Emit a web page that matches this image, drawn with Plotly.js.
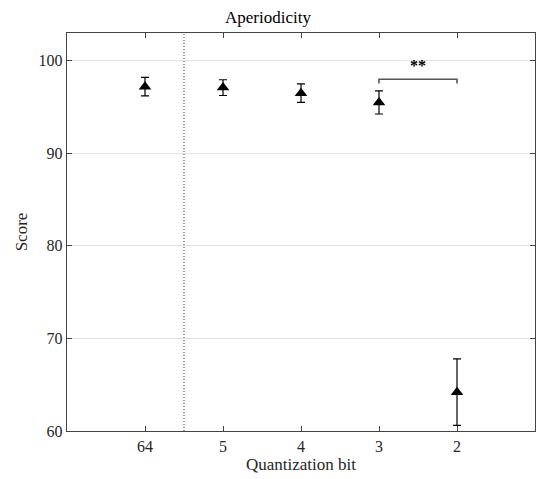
<!DOCTYPE html>
<html>
<head>
<meta charset="utf-8">
<script src="https://cdn.plot.ly/plotly-3.0.1.min.js"></script>
<style>html,body{margin:0;padding:0;background:#fff;}#chart{width:536px;height:479px;}</style>
</head>
<body>
<div id="chart"></div>
<script>
const categories = ["64", "5", "4", "3", "2"];
const meanScore = [97.2, 97.1, 96.5, 95.5, 64.2];
const errScore = [1.0, 0.85, 1.0, 1.25, 3.6];
const sigPair = ["3", "2"];
const sigLevel = 98.0;
const sigDrop = 0.45;
const sigLabel = "**";
const separatorAfter = "64";

const xIdx = categories.map((c, i) => i + 1);
const idxOf = c => categories.indexOf(c) + 1;
const font = "Liberation Serif, Times New Roman, serif";

const traces = [
  {
    x: xIdx, y: meanScore, type: "scatter", mode: "markers",
    marker: {symbol: "triangle-up", size: 11, color: "#000"},
    error_y: {type: "data", array: errScore, visible: true, color: "#000", thickness: 1.2, width: 4},
    showlegend: false, hoverinfo: "skip"
  },
  {
    x: [idxOf(sigPair[0]), idxOf(sigPair[0]), idxOf(sigPair[1]), idxOf(sigPair[1])],
    y: [sigLevel - sigDrop, sigLevel, sigLevel, sigLevel - sigDrop],
    type: "scatter", mode: "lines",
    line: {color: "#555", width: 1.6},
    showlegend: false, hoverinfo: "skip"
  },
  {
    x: [(idxOf(sigPair[0]) + idxOf(sigPair[1])) / 2], y: [sigLevel + 1.3],
    type: "scatter", mode: "text", text: ["<b>" + sigLabel + "</b>"],
    textfont: {family: font, size: 16, color: "#000"},
    showlegend: false, hoverinfo: "skip"
  }
];

const layout = {
  width: 536, height: 479,
  margin: {l: 67, r: 1, t: 33, b: 48},
  paper_bgcolor: "#fff", plot_bgcolor: "#fff",
  font: {family: font, size: 16, color: "#262626"},
  title: {text: "Aperiodicity", font: {family: font, size: 17, color: "#000"}, x: 0.5, xanchor: "center", y: 1, yref: "paper", yanchor: "bottom", pad: {b: 10}},
  xaxis: {
    range: [0, categories.length + 1],
    tickvals: xIdx, ticktext: categories,
    ticks: "inside", ticklen: 5, tickcolor: "#444", tickwidth: 1,
    showline: true, linecolor: "#444", linewidth: 1.3, mirror: "ticks",
    showgrid: false, zeroline: false,
    tickfont: {family: font, size: 16, color: "#262626"},
    title: {text: "Quantization bit", font: {family: font, size: 17, color: "#262626"}, standoff: 2}
  },
  yaxis: {
    range: [60, 103],
    tickvals: [60, 70, 80, 90, 100],
    ticks: "inside", ticklen: 5, tickcolor: "#444", tickwidth: 1,
    showline: true, linecolor: "#444", linewidth: 1.3, mirror: "ticks",
    showgrid: true, gridcolor: "#e3e3e3", gridwidth: 1, zeroline: false,
    tickfont: {family: font, size: 16, color: "#262626"},
    title: {text: "Score", font: {family: font, size: 17, color: "#262626"}, standoff: 6}
  },
  shapes: [{
    type: "line", xref: "x", yref: "paper",
    x0: idxOf(separatorAfter) + 0.5, x1: idxOf(separatorAfter) + 0.5, y0: 0, y1: 1,
    line: {color: "#333", width: 1, dash: "1px,2px"}
  }]
};

Plotly.newPlot("chart", traces, layout, {displayModeBar: false, staticPlot: true});
</script>
</body>
</html>
